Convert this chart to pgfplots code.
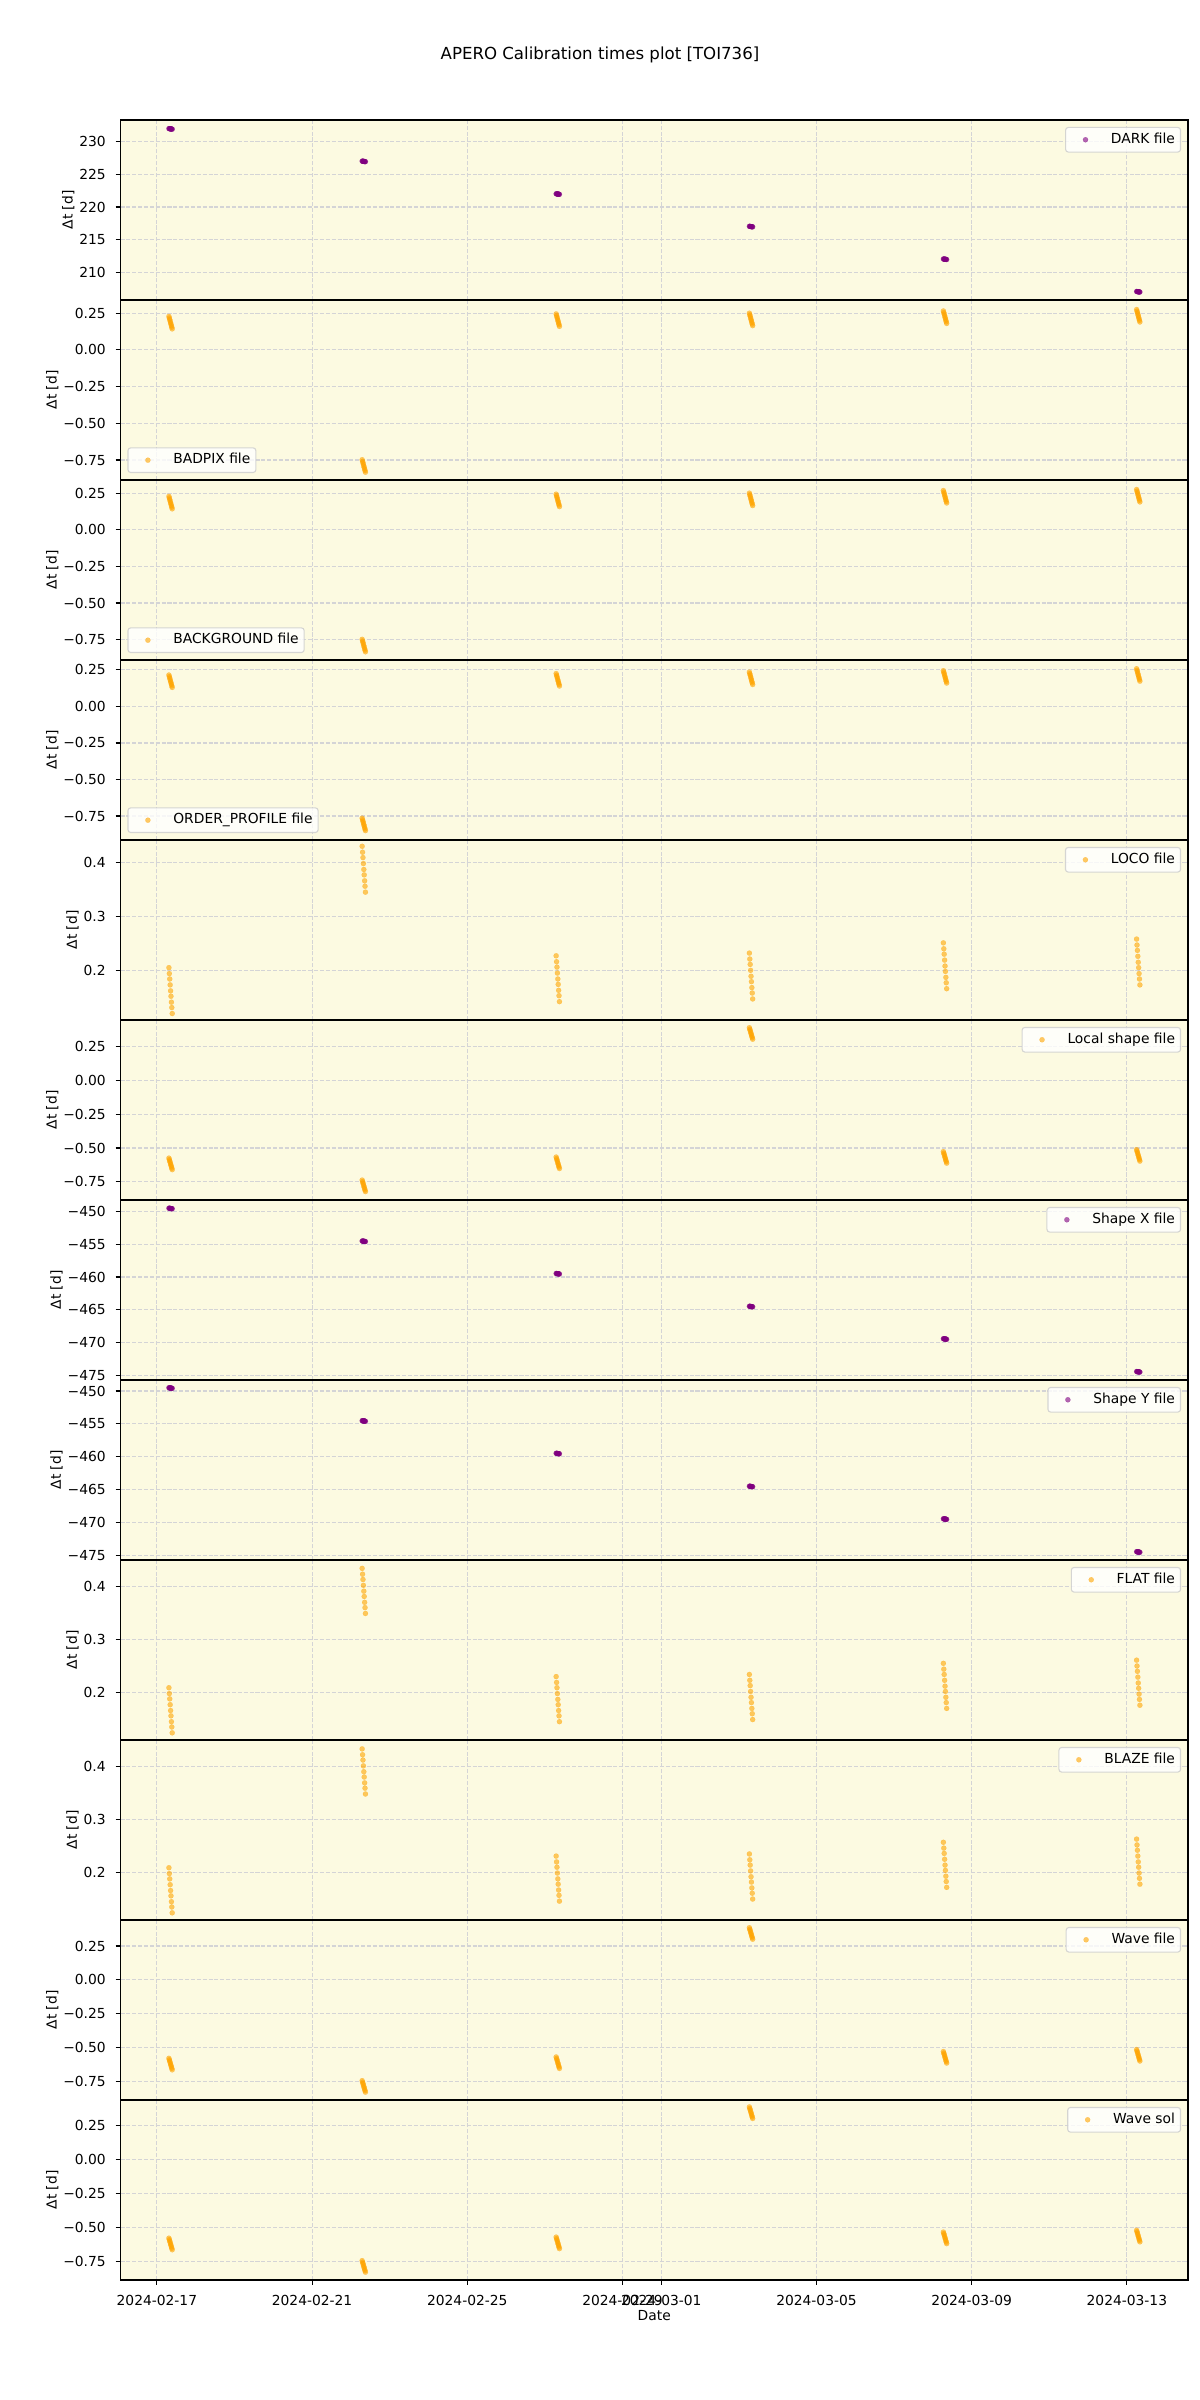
\documentclass[border=0pt]{standalone}
\usepackage{fontspec}
\setmainfont{DejaVu Sans}
\usepackage{pgfplots}
\usepackage{pgfplotstable}
\pgfplotsset{compat=1.18}

\definecolor{mplorange}{HTML}{FFA500}
\definecolor{mplpurple}{HTML}{800080}
\definecolor{panelbg}{HTML}{FCFAE1}
\definecolor{gridgray}{HTML}{D4D4D6}
\definecolor{legendedge}{HTML}{CCCCCC}

% t = days since 2024-02-17, then Delta t [d] for each calibration file
\pgfplotstableread{
t dark badpix background orderprofile loco localshape shapex shapey flat blaze wave wavesol
0.310 232.000 0.228 0.228 0.215 0.205 -0.575 -449.510 -449.510 0.209 0.209 -0.580 -0.580
0.321 231.989 0.217 0.217 0.204 0.194 -0.586 -449.521 -449.521 0.198 0.198 -0.591 -0.591
0.331 231.979 0.207 0.207 0.194 0.184 -0.596 -449.531 -449.531 0.188 0.188 -0.601 -0.601
0.342 231.968 0.196 0.196 0.183 0.173 -0.607 -449.542 -449.542 0.177 0.177 -0.612 -0.612
0.353 231.957 0.185 0.185 0.172 0.162 -0.618 -449.553 -449.553 0.166 0.166 -0.623 -0.623
0.363 231.947 0.175 0.175 0.162 0.152 -0.628 -449.563 -449.563 0.156 0.156 -0.633 -0.633
0.374 231.936 0.164 0.164 0.151 0.141 -0.639 -449.574 -449.574 0.145 0.145 -0.644 -0.644
0.384 231.926 0.154 0.154 0.141 0.131 -0.649 -449.584 -449.584 0.135 0.135 -0.654 -0.654
0.395 231.915 0.143 0.143 0.130 0.120 -0.660 -449.595 -449.595 0.124 0.124 -0.665 -0.665
5.290 227.020 -0.748 -0.748 -0.765 0.430 -0.737 -454.510 -454.510 0.434 0.433 -0.745 -0.745
5.301 227.009 -0.759 -0.759 -0.776 0.419 -0.748 -454.521 -454.521 0.423 0.422 -0.756 -0.756
5.311 226.999 -0.769 -0.769 -0.786 0.409 -0.758 -454.531 -454.531 0.413 0.412 -0.766 -0.766
5.322 226.988 -0.780 -0.780 -0.797 0.398 -0.769 -454.542 -454.542 0.402 0.401 -0.777 -0.777
5.333 226.977 -0.791 -0.791 -0.808 0.387 -0.780 -454.553 -454.553 0.391 0.390 -0.788 -0.788
5.343 226.967 -0.801 -0.801 -0.818 0.377 -0.790 -454.563 -454.563 0.381 0.380 -0.798 -0.798
5.354 226.956 -0.812 -0.812 -0.829 0.366 -0.801 -454.574 -454.574 0.370 0.369 -0.809 -0.809
5.364 226.946 -0.822 -0.822 -0.839 0.356 -0.811 -454.584 -454.584 0.360 0.359 -0.819 -0.819
5.375 226.935 -0.833 -0.833 -0.850 0.345 -0.822 -454.595 -454.595 0.349 0.348 -0.830 -0.830
10.290 222.020 0.245 0.243 0.225 0.227 -0.567 -459.460 -459.460 0.230 0.231 -0.570 -0.572
10.301 222.009 0.234 0.232 0.214 0.216 -0.578 -459.471 -459.471 0.219 0.220 -0.581 -0.583
10.311 221.999 0.224 0.222 0.204 0.206 -0.588 -459.481 -459.481 0.209 0.210 -0.591 -0.593
10.322 221.988 0.213 0.211 0.193 0.195 -0.599 -459.492 -459.492 0.198 0.199 -0.602 -0.604
10.333 221.977 0.202 0.200 0.182 0.184 -0.610 -459.503 -459.503 0.187 0.188 -0.613 -0.615
10.343 221.967 0.192 0.190 0.172 0.174 -0.620 -459.513 -459.513 0.177 0.178 -0.623 -0.625
10.354 221.956 0.181 0.179 0.161 0.163 -0.631 -459.524 -459.524 0.166 0.167 -0.634 -0.636
10.364 221.946 0.171 0.169 0.151 0.153 -0.641 -459.534 -459.534 0.156 0.157 -0.644 -0.646
10.375 221.935 0.160 0.158 0.140 0.142 -0.652 -459.545 -459.545 0.145 0.146 -0.655 -0.657
15.270 217.040 0.250 0.250 0.235 0.232 0.388 -464.460 -464.460 0.234 0.235 0.385 0.385
15.281 217.029 0.239 0.239 0.224 0.221 0.377 -464.471 -464.471 0.223 0.224 0.374 0.374
15.291 217.019 0.229 0.229 0.214 0.211 0.367 -464.481 -464.481 0.213 0.214 0.364 0.364
15.302 217.008 0.218 0.218 0.203 0.200 0.356 -464.492 -464.492 0.202 0.203 0.353 0.353
15.313 216.997 0.207 0.207 0.192 0.189 0.345 -464.503 -464.503 0.191 0.192 0.342 0.342
15.323 216.987 0.197 0.197 0.182 0.179 0.335 -464.513 -464.513 0.181 0.182 0.332 0.332
15.334 216.976 0.186 0.186 0.171 0.168 0.324 -464.524 -464.524 0.170 0.171 0.321 0.321
15.344 216.966 0.176 0.176 0.161 0.158 0.314 -464.534 -464.534 0.160 0.161 0.311 0.311
15.355 216.955 0.165 0.165 0.150 0.147 0.303 -464.545 -464.545 0.149 0.150 0.300 0.300
20.270 212.040 0.265 0.268 0.245 0.251 -0.527 -469.410 -469.410 0.255 0.257 -0.530 -0.535
20.281 212.029 0.254 0.257 0.234 0.240 -0.538 -469.421 -469.421 0.244 0.246 -0.541 -0.546
20.291 212.019 0.244 0.247 0.224 0.230 -0.548 -469.431 -469.431 0.234 0.236 -0.551 -0.556
20.302 212.008 0.233 0.236 0.213 0.219 -0.559 -469.442 -469.442 0.223 0.225 -0.562 -0.567
20.313 211.997 0.222 0.225 0.202 0.208 -0.570 -469.453 -469.453 0.212 0.214 -0.573 -0.578
20.323 211.987 0.212 0.215 0.192 0.198 -0.580 -469.463 -469.463 0.202 0.204 -0.583 -0.588
20.334 211.976 0.201 0.204 0.181 0.187 -0.591 -469.474 -469.474 0.191 0.193 -0.594 -0.599
20.344 211.966 0.191 0.194 0.171 0.177 -0.601 -469.484 -469.484 0.181 0.183 -0.604 -0.609
20.355 211.955 0.180 0.183 0.160 0.166 -0.612 -469.495 -469.495 0.170 0.172 -0.615 -0.620
25.250 207.060 0.275 0.275 0.258 0.258 -0.512 -474.410 -474.410 0.261 0.263 -0.515 -0.522
25.261 207.049 0.264 0.264 0.247 0.247 -0.523 -474.421 -474.421 0.250 0.252 -0.526 -0.533
25.271 207.039 0.254 0.254 0.237 0.237 -0.533 -474.431 -474.431 0.240 0.242 -0.536 -0.543
25.282 207.028 0.243 0.243 0.226 0.226 -0.544 -474.442 -474.442 0.229 0.231 -0.547 -0.554
25.293 207.017 0.232 0.232 0.215 0.215 -0.555 -474.453 -474.453 0.218 0.220 -0.558 -0.565
25.303 207.007 0.222 0.222 0.205 0.205 -0.565 -474.463 -474.463 0.208 0.210 -0.568 -0.575
25.314 206.996 0.211 0.211 0.194 0.194 -0.576 -474.474 -474.474 0.197 0.199 -0.579 -0.586
25.324 206.986 0.201 0.201 0.184 0.184 -0.586 -474.484 -474.484 0.187 0.189 -0.589 -0.596
25.335 206.975 0.190 0.190 0.173 0.173 -0.597 -474.495 -474.495 0.176 0.178 -0.600 -0.607
}\caltimes

\pgfplotsset{
  calpanel/.style={
    scale only axis, width=10.675in, height=1.8in,
    anchor=south west,
    xmin=-0.938, xmax=26.575,
    axis background/.style={fill=panelbg},
    axis line style={line width=0.8pt},
    xtick={0,4,8,12,13,17,21,25},
    xticklabels={},
    xtick style={draw=none},
    ytick pos=left,
    tick align=outside,
    major tick length=3.5pt,
    ytick style={line width=0.8pt, black},
    xmajorgrids, ymajorgrids,
    grid style={gridgray, line width=0.8pt, dash pattern=on 2.96pt off 1.28pt},
    tick label style={font=\fontsize{10}{12}\selectfont},
    yticklabel style={anchor=east, inner sep=0pt, xshift=-7pt},
    ylabel={Δt [d]},
    label style={font=\fontsize{10}{12}\selectfont},
    legend cell align=left,
    legend image code/.code={
      \draw[mark repeat=2, mark phase=2, ##1] plot coordinates {(0pt,0pt) (10pt,0pt) (20pt,0pt)};
      \path (0pt,0pt) (28pt,0pt);
    },
    legend style={draw=legendedge, line width=0.8pt, rounded corners=2pt,
      fill=white, fill opacity=0.8, draw opacity=0.8, text opacity=1,
      font=\fontsize{10}{12}\selectfont, inner xsep=4pt, inner ysep=4pt,
      nodes={inner sep=0pt, text height=7.6pt, text depth=2.2pt}},
  },
  legUR/.style={legend style={at={(1,1)}, anchor=north east, xshift=-5pt, yshift=-5pt}},
  legLL/.style={legend style={at={(0,0)}, anchor=south west, xshift=5pt, yshift=5pt}},
  fracticks/.style={ytick={-0.75,-0.5,-0.25,0,0.25}, yticklabels={−0.75,−0.50,−0.25,0.00,0.25}},
  smallticks/.style={ytick={0.2,0.3,0.4}, yticklabels={0.2,0.3,0.4}},
  shapeticks/.style={ytick={-475,-470,-465,-460,-455,-450}, yticklabels={−475,−470,−465,−460,−455,−450}},
  orangepts/.style={only marks, mark=*, mark size=1.85pt, color=mplorange,
    mark options={draw=mplorange, fill=mplorange, line width=0.1pt, opacity=0.6}},
  purplepts/.style={only marks, mark=*, mark size=1.85pt, color=mplpurple,
    mark options={draw=mplpurple, fill=mplpurple, line width=0.1pt, opacity=0.6}},
}

\begin{document}
\begin{tikzpicture}
\path[use as bounding box] (0,0) rectangle (12in,24in);
\node[font=\fontsize{12}{14}\selectfont] at (6in,23.45in) {APERO Calibration times plot [TOI736]};

\begin{axis}[calpanel, legUR, at={(1.205in,21.0in)}, ymin=205.76, ymax=233.32,
  ytick={210,215,220,225,230}, yticklabels={210,215,220,225,230}]
\addplot[purplepts] table[x=t, y=dark] {\caltimes};
\addlegendentry{DARK file}
\end{axis}

\begin{axis}[calpanel, legLL, at={(1.205in,19.2in)}, ymin=-0.886, ymax=0.340, fracticks]
\addplot[orangepts] table[x=t, y=badpix] {\caltimes};
\addlegendentry{BADPIX file}
\end{axis}

\begin{axis}[calpanel, legLL, at={(1.205in,17.4in)}, ymin=-0.889, ymax=0.340, fracticks]
\addplot[orangepts] table[x=t, y=background] {\caltimes};
\addlegendentry{BACKGROUND file}
\end{axis}

\begin{axis}[calpanel, legLL, at={(1.205in,15.6in)}, ymin=-0.914, ymax=0.318, fracticks]
\addplot[orangepts] table[x=t, y=orderprofile] {\caltimes};
\addlegendentry{ORDER\_PROFILE file}
\end{axis}

\begin{axis}[calpanel, legUR, at={(1.205in,13.8in)}, ymin=0.108, ymax=0.4417, smallticks]
\addplot[orangepts] table[x=t, y=loco] {\caltimes};
\addlegendentry{LOCO file}
\end{axis}

\begin{axis}[calpanel, legUR, at={(1.205in,12.0in)}, ymin=-0.884, ymax=0.445, fracticks]
\addplot[orangepts] table[x=t, y=localshape] {\caltimes};
\addlegendentry{Local shape file}
\end{axis}

\begin{axis}[calpanel, legUR, at={(1.205in,10.2in)}, ymin=-475.7, ymax=-448.26, shapeticks]
\addplot[purplepts] table[x=t, y=shapex] {\caltimes};
\addlegendentry{Shape X file}
\end{axis}

\begin{axis}[calpanel, legUR, at={(1.205in,8.4in)}, ymin=-475.67, ymax=-448.33, shapeticks]
\addplot[purplepts] table[x=t, y=shapey] {\caltimes};
\addlegendentry{Shape Y file}
\end{axis}

\begin{axis}[calpanel, legUR, at={(1.205in,6.6in)}, ymin=0.1105, ymax=0.4498, smallticks]
\addplot[orangepts] table[x=t, y=flat] {\caltimes};
\addlegendentry{FLAT file}
\end{axis}

\begin{axis}[calpanel, legUR, at={(1.205in,4.8in)}, ymin=0.1105, ymax=0.4498, smallticks]
\addplot[orangepts] table[x=t, y=blaze] {\caltimes};
\addlegendentry{BLAZE file}
\end{axis}

\begin{axis}[calpanel, legUR, at={(1.205in,3.0in)}, ymin=-0.888, ymax=0.442, fracticks]
\addplot[orangepts] table[x=t, y=wave] {\caltimes};
\addlegendentry{Wave file}
\end{axis}

\begin{axis}[calpanel, legUR, at={(1.205in,1.2in)}, ymin=-0.8875, ymax=0.436, fracticks,
  xtick pos=bottom,
  xtick style={draw=black, line width=0.8pt},
  xticklabels={2024-02-17,2024-02-21,2024-02-25,2024-02-29,2024-03-01,2024-03-05,2024-03-09,2024-03-13},
  xticklabel style={anchor=north, inner sep=0pt, yshift=-7pt},
  xlabel={Date}]
\addplot[orangepts] table[x=t, y=wavesol] {\caltimes};
\addlegendentry{Wave sol}
\end{axis}
\end{tikzpicture}
\end{document}
